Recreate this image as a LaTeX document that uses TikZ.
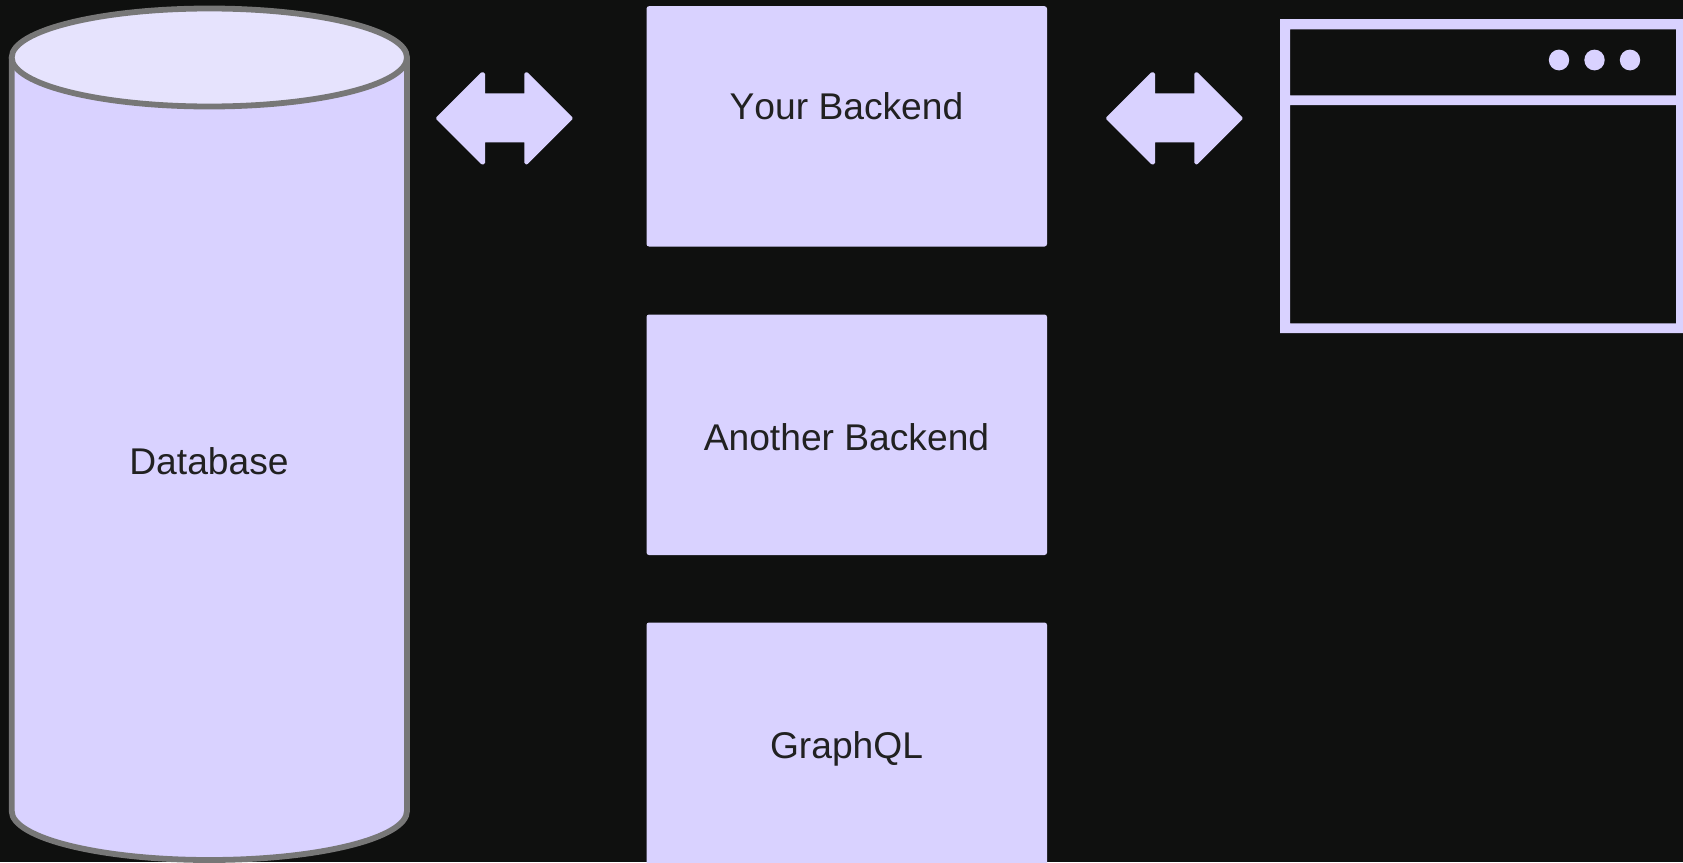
\documentclass[tikz,border=0pt]{standalone}
\usepackage{fontspec}
\setmainfont[Kerning=Off]{Liberation Sans}
\definecolor{bgc}{HTML}{0F100F}
\definecolor{lav}{HTML}{D9D2FF}
\definecolor{lavtop}{HTML}{E6E3FD}
\definecolor{edgec}{HTML}{777777}
\definecolor{txt}{HTML}{212121}
\tikzset{
  box/.style={fill=lav,rounded corners=2.5pt,draw=none},
  lbl/.style={text=txt,font=\fontsize{37.2}{44}\selectfont,inner sep=0pt,anchor=center},
  cyl/.style={draw=edgec,line width=5.8pt},
  dblarrow/.style={fill=lav,draw=lav,line width=3pt,line join=round},
  dot/.style={fill=lav,draw=none}
}
\newcommand{\dblarrowshape}[1]{%
  \filldraw[dblarrow,shift={(#1,0)}] (437.5,118.3) -- (482,73.8) -- (483.5,73.8) -- (483.5,94.8) -- (525.8,94.8) -- (525.8,73.8) -- (526.7,73.8) -- (571.2,118.3) -- (526.7,162.8) -- (525.8,162.8) -- (525.8,140.8) -- (483.5,140.8) -- (483.5,162.8) -- (482,162.8) -- cycle;}
\begin{document}
\begin{tikzpicture}[x=1pt,y=-1pt]
\useasboundingbox (0,0) rectangle (1683,862);
\fill[bgc] (0,0) rectangle (1683,862);
% cylinder
\begin{scope}
\clip (0,0) rectangle (1683,862);
\draw[cyl,fill=lav] (11.7,57.5) -- (11.7,811) arc[start angle=180,end angle=360,x radius=197.65,y radius=-49] -- (407,57.5);
\draw[cyl,fill=lavtop] (209.35,57.5) ellipse[x radius=197.65,y radius=49];
\end{scope}
\node[lbl] (db) at (209,461) {Database};
% arrows
\dblarrowshape{0}
\dblarrowshape{670}
% boxes
\fill[box] (646.5,6.2) rectangle (1047,246.5);
\node[lbl] (yb) at (846.5,106) {Your Backend};
\fill[box] (646.5,314.5) rectangle (1047,555);
\node[lbl] (ab) at (846.5,437) {Another Backend};
\fill[box] (646.5,622.5) rectangle (1047,880);
\node[lbl] (gq) at (846.5,749) {GraphQL};
% browser window
\fill[lav,even odd rule] (1280,19) rectangle (1690,333)
  (1290,29.3) rectangle (1676,95.3)
  (1290,105) rectangle (1676,323.3);
\fill[dot] (1559,60) ellipse[x radius=10.2,y radius=10.4];
\fill[dot] (1594.5,60) ellipse[x radius=10.2,y radius=10.4];
\fill[dot] (1630,60) ellipse[x radius=10.2,y radius=10.4];
\end{tikzpicture}
\end{document}
